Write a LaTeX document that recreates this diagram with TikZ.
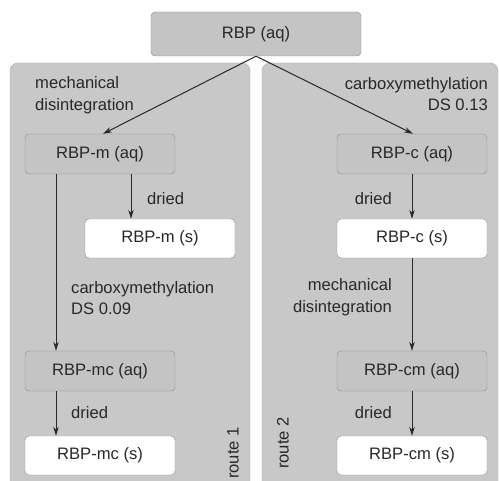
\documentclass[tikz,border=0pt]{standalone}
\usepackage{fontspec}
\setmainfont{Liberation Sans}
\usepackage{tikz}
\usetikzlibrary{positioning, calc, arrows.meta}
\definecolor{panelgray}{RGB}{200,200,200}
\definecolor{boxgray}{RGB}{196,196,196}
\definecolor{edgegray}{RGB}{140,140,140}
\definecolor{inkgray}{RGB}{40,40,40}

\begin{document}
\begin{tikzpicture}[x=1pt, y=-1pt,
	every node/.style={font=\fontsize{16.6}{21.5}\selectfont, text=inkgray},
	stepaq/.style={draw=edgegray, fill=boxgray, rounded corners=4pt, minimum width=150pt, minimum height=40pt, inner sep=0pt},
	steps/.style={draw=edgegray, fill=white, rounded corners=4pt, minimum width=150pt, minimum height=39pt, inner sep=0pt},
	lbl/.style={inner sep=0pt},
	arr/.style={draw=inkgray, line width=1pt, -{Stealth[length=9pt, width=5.5pt]}}]
	\useasboundingbox (0,0) rectangle (499,481);
	\clip (0,0) rectangle (499,481);
	\fill[white] (0,0) rectangle (499,481);
	\draw[edgegray!70, fill=panelgray, rounded corners=8pt] (10,63) rectangle (250,495);
	\draw[edgegray!70, fill=panelgray, rounded corners=8pt] (262,63) rectangle (498,495);
	
	\node[stepaq, minimum width=210pt, minimum height=44pt] (rbp) at (256,34) {RBP (aq)};
	
	\node[stepaq] (maq) at (100,154) {RBP-m (aq)};
	\node[steps] (ms) at (160,238.5) {RBP-m (s)};
	\node[stepaq] (mcaq) at (100,371) {RBP-mc (aq)};
	\node[steps] (mcs) at (100,455.5) {RBP-mc (s)};
	
	\node[stepaq] (caq) at (412,154) {RBP-c (aq)};
	\node[steps] (cs) at (412,238.5) {RBP-c (s)};
	\node[stepaq] (cmaq) at (412,371) {RBP-cm (aq)};
	\node[steps] (cms) at (412,455.5) {RBP-cm (s)};
	
	\draw[arr] (rbp.south) -- ([xshift=3pt]maq.north);
	\draw[arr] (rbp.south) -- ([xshift=1pt]caq.north);
	\draw[arr] ([xshift=31pt]maq.south) -- ([xshift=31pt]maq.south |- ms.north);
	\draw[arr] ([xshift=-44pt]maq.south) -- ([xshift=-44pt]maq.south |- mcaq.north);
	\draw[arr] ([xshift=-44pt]mcaq.south) -- ([xshift=-44pt]mcaq.south |- mcs.north);
	\draw[arr] (caq) -- (cs);
	\draw[arr] (cs) -- (cmaq);
	\draw[arr] (cmaq) -- (cms);
	
	\node[lbl, anchor=west, align=left] (mdisa) at (35,95) {mechanical\\disintegration};
	\node[lbl, anchor=east, align=right] (cmetha) at (488,94) {carboxymethylation\\DS 0.13};
	\node[lbl, anchor=west] (drya) at (147,199) {dried};
	\node[lbl, anchor=west, align=left] (cmethb) at (71,298) {carboxymethylation\\DS 0.09};
	\node[lbl, anchor=west] (dryb) at (71,413) {dried};
	\node[lbl, anchor=east] (dryc) at (392,199) {dried};
	\node[lbl, anchor=east, align=right] (mdisb) at (392,297) {mechanical\\disintegration};
	\node[lbl, anchor=east] (dryd) at (392,413) {dried};
	\node[lbl, rotate=90] (routea) at (233,453) {route 1};
	\node[lbl, rotate=90] (routeb) at (283,443) {route 2};
\end{tikzpicture}
\end{document}
